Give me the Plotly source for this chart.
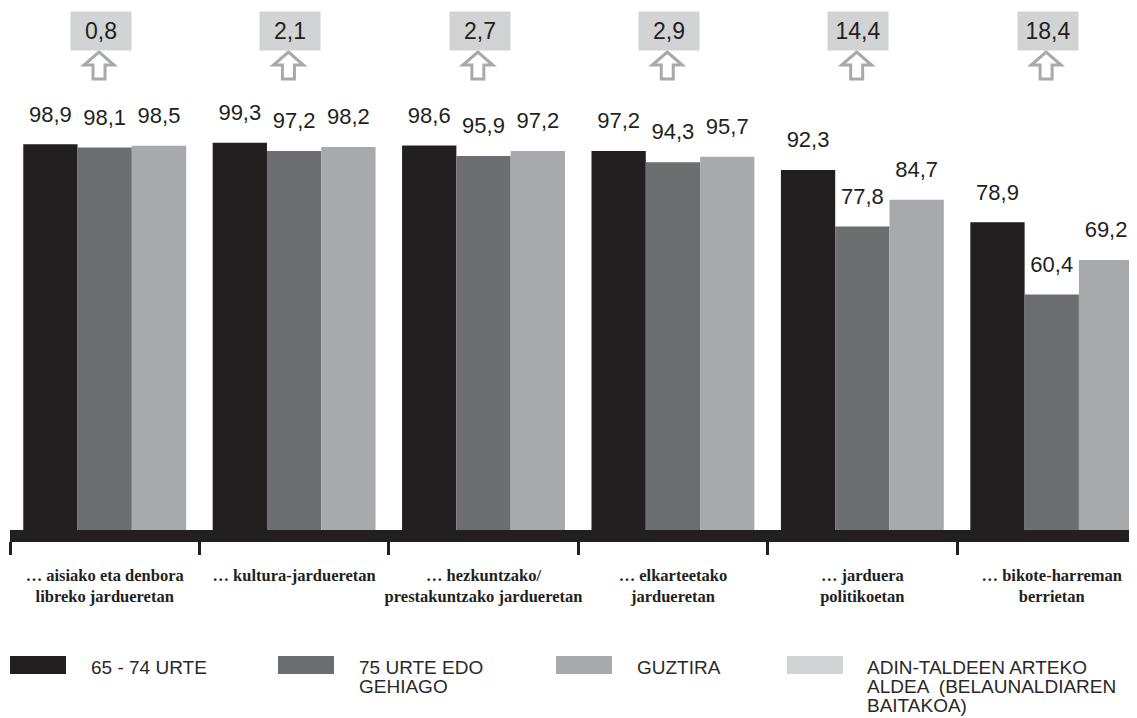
import plotly.graph_objects as go

categories = [
    "… aisiako eta denbora<br>libreko jardueretan",
    "… kultura-jardueretan",
    "… hezkuntzako/<br>prestakuntzako jardueretan",
    "… elkarteetako<br>jardueretan",
    "… jarduera<br>politikoetan",
    "… bikote-harreman<br>berrietan",
]
series_names = ["65 - 74 URTE", "75 URTE EDO GEHIAGO", "GUZTIRA"]
age_65_74 = [98.9, 99.3, 98.6, 97.2, 92.3, 78.9]
age_75_plus = [98.1, 97.2, 95.9, 94.3, 77.8, 60.4]
total = [98.5, 98.2, 97.2, 95.7, 84.7, 69.2]
difference = [0.8, 2.1, 2.7, 2.9, 14.4, 18.4]
legend_lines = [
    ["65 - 74 URTE"],
    ["75 URTE EDO", "GEHIAGO"],
    ["GUZTIRA"],
    ["ADIN-TALDEEN ARTEKO", "ALDEA  (BELAUNALDIAREN", "BAITAKOA)"],
]

colors = ["#231f20", "#6d6e71", "#a7a9ac"]
diff_color = "#d1d3d4"
arrow_color = "#a7a9ac"
text_color = "#231f20"

# the page body adds an 8px margin; figure is sized to fill the rest
OFF = 8
W, H = 1137 - OFF, 718 - OFF
PLOT_LEFT, PLOT_BOTTOM = 10, 530          # in page pixels
ML, MR, MT = PLOT_LEFT - OFF, 0, 0
MB = H - (PLOT_BOTTOM - OFF)
PW, PH = W - ML - MR, H - MT - MB
PX_PER_UNIT = 3.9
Y_TOP = PH / PX_PER_UNIT


def px_x(x):
    return (x - PLOT_LEFT) / PW


def px_y(y):
    return (PLOT_BOTTOM - y) / PH


fig = go.Figure()
series = [age_65_74, age_75_plus, total]
for i, (name, vals) in enumerate(zip(series_names, series)):
    fig.add_trace(go.Bar(
        x=categories, y=vals, name=name, marker_color=colors[i],
        marker_line_width=0, offsetgroup=str(i), showlegend=False,
        hoverinfo="skip",
    ))
for i, (name, vals) in enumerate(zip(series_names, series)):
    fig.add_trace(go.Scatter(
        x=categories, y=vals, mode="markers+text", offsetgroup=str(i),
        text=[f"{v:.1f}".replace(".", ",") for v in vals],
        textposition="top center",
        textfont=dict(family="Liberation Sans, Arial, sans-serif", size=22, color=text_color),
        marker=dict(size=26, color="rgba(0,0,0,0)"),
        showlegend=False, hoverinfo="skip", cliponaxis=False,
    ))

annotations = []
shapes = []
arrow_path = "M-6,-13 L6,-13 L6,1 L15,1 L0,14 L-15,1 L-6,1 Z"
for idx, (cat, d) in enumerate(zip(categories, difference)):
    annotations.append(dict(
        x=cat, xref="x", y=px_y(31), yref="paper", xshift=-4,
        xanchor="center", yanchor="middle",
        text=f"{d:.1f}".replace(".", ","), showarrow=False,
        font=dict(family="Liberation Sans, Arial, sans-serif", size=23, color=text_color),
        bgcolor=diff_color, width=52, height=30, borderpad=4,
    ))
    shapes.append(dict(
        type="path", xref="x", yref="paper",
        xsizemode="pixel", ysizemode="pixel",
        xanchor=idx - 0.03, yanchor=px_y(66),
        path=arrow_path, fillcolor="white",
        line=dict(color=arrow_color, width=3),
    ))

leg_swatch_x = [10, 278, 556, 787]
leg_text_x = [89, 357, 635, 865]
leg_colors = colors + [diff_color]
for sx, tx, col, lines in zip(leg_swatch_x, leg_text_x, leg_colors, legend_lines):
    shapes.append(dict(
        type="rect", xref="paper", yref="paper",
        x0=px_x(sx), x1=px_x(sx + 56), y0=px_y(674), y1=px_y(656),
        fillcolor=col, line_width=0,
    ))
    for k, line in enumerate(lines):
        annotations.append(dict(
            x=px_x(tx), xref="paper", y=px_y(667 + 19 * k), yref="paper",
            xanchor="left", yanchor="middle", text=line, showarrow=False,
            font=dict(family="Liberation Sans, Arial, sans-serif", size=19, color="#2b2829"),
        ))

fig.update_layout(
    width=W, height=H,
    margin=dict(l=ML, r=MR, t=MT, b=MB),
    paper_bgcolor="white", plot_bgcolor="white",
    barmode="group", bargap=0.14, bargroupgap=0,
    scattermode="group", scattergap=0.14,
    showlegend=False,
    annotations=annotations, shapes=shapes,
    xaxis=dict(
        range=[-0.5, 5.45], showline=True, linewidth=12, linecolor=text_color,
        ticks="outside", tickson="boundaries", ticklen=13, tickwidth=3,
        tickcolor=text_color, showgrid=False, zeroline=False,
        tickangle=0, automargin=False, ticklabelstandoff=19,
        tickfont=dict(family="Liberation Serif, Times New Roman, serif", size=16.5,
                      color=text_color, weight="bold"),
    ),
    yaxis=dict(range=[0, Y_TOP], visible=False, showgrid=False, zeroline=False,
               automargin=False),
)

fig.write_html("out.html")
